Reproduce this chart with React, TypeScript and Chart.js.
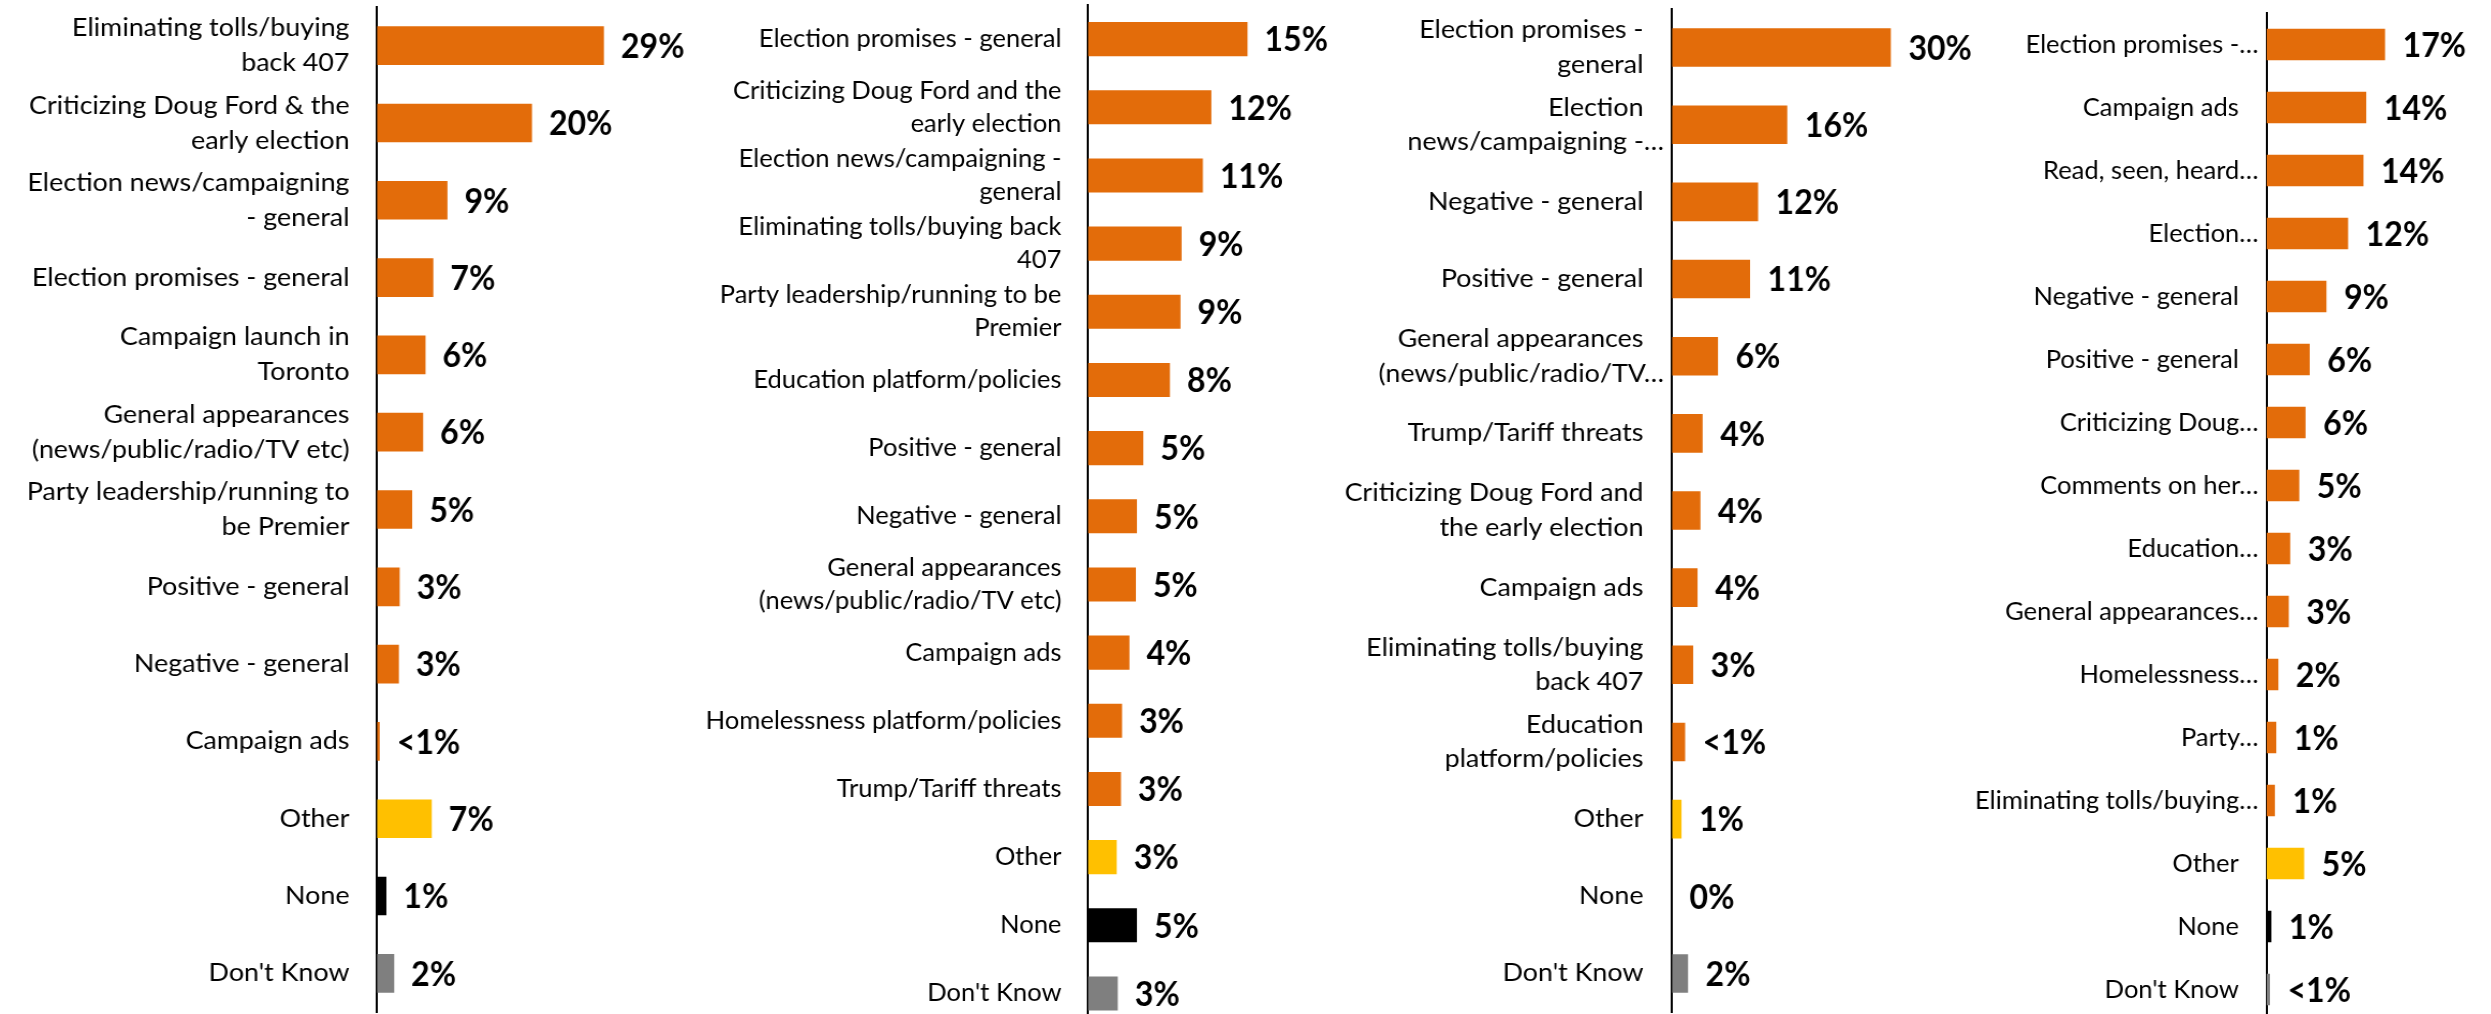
import React, { useEffect, useRef } from 'react';
import { Chart, registerables } from 'chart.js';

Chart.register(...registerables);

// ---------------- DATA ----------------
const p1Categories = [
  'Eliminating tolls/buying\nback 407',
  'Criticizing Doug Ford & the\nearly election',
  'Election news/campaigning\n- general',
  'Election promises - general',
  'Campaign launch in\nToronto',
  'General appearances\n(news/public/radio/TV etc)',
  'Party leadership/running to\nbe Premier',
  'Positive - general',
  'Negative - general',
  'Campaign ads',
  'Other',
  'None',
  "Don't Know",
];
const p1Values = [29, 19.8, 9, 7.2, 6.2, 5.9, 4.5, 2.9, 2.8, 0.35, 7.0, 1.2, 2.2];
const p1Labels = ['29%', '20%', '9%', '7%', '6%', '6%', '5%', '3%', '3%', '<1%', '7%', '1%', '2%'];

const p2Categories = [
  'Election promises - general',
  'Criticizing Doug Ford and the\nearly election',
  'Election news/campaigning -\ngeneral',
  'Eliminating tolls/buying back\n407',
  'Party leadership/running to be\nPremier',
  'Education platform/policies',
  'Positive - general',
  'Negative - general',
  'General appearances\n(news/public/radio/TV etc)',
  'Campaign ads',
  'Homelessness platform/policies',
  'Trump/Tariff threats',
  'Other',
  'None',
  "Don't Know",
];
const p2Values = [15, 11.6, 10.8, 8.8, 8.7, 7.7, 5.2, 4.6, 4.5, 3.9, 3.2, 3.1, 2.7, 4.6, 2.8];
const p2Labels = ['15%', '12%', '11%', '9%', '9%', '8%', '5%', '5%', '5%', '4%', '3%', '3%', '3%', '5%', '3%'];

const p3Categories = [
  'Election promises -\ngeneral',
  'Election\nnews/campaigning -…',
  'Negative - general',
  'Positive - general',
  'General appearances\n(news/public/radio/TV…',
  'Trump/Tariff threats',
  'Criticizing Doug Ford and\nthe early election',
  'Campaign ads',
  'Eliminating tolls/buying\nback 407',
  'Education\nplatform/policies',
  'Other',
  'None',
  "Don't Know",
];
const p3Values = [30, 15.8, 11.8, 10.7, 6.3, 4.2, 3.9, 3.5, 2.9, 1.8, 1.3, 0, 2.2];
const p3Labels = ['30%', '16%', '12%', '11%', '6%', '4%', '4%', '4%', '3%', '<1%', '1%', '0%', '2%'];

const p4Categories = [
  'Election promises -…',
  'Campaign ads',
  'Read, seen, heard…',
  'Election…',
  'Negative - general',
  'Positive - general',
  'Criticizing Doug…',
  'Comments on her…',
  'Education…',
  'General appearances…',
  'Homelessness…',
  'Party…',
  'Eliminating tolls/buying…',
  'Other',
  'None',
  "Don't Know",
];
const p4Values = [17, 14.3, 13.9, 11.7, 8.6, 6.2, 5.6, 4.7, 3.4, 3.2, 1.7, 1.4, 1.2, 5.4, 0.7, 0.5];
const p4Labels = ['17%', '14%', '14%', '12%', '9%', '6%', '6%', '5%', '3%', '3%', '2%', '1%', '1%', '5%', '1%', '<1%'];

// ---------------- STYLE ----------------
const ORANGE = '#E36C0A';
const YELLOW = '#FFC000';
const BLACK = '#000000';
const GREY = '#7F7F7F';
const FONT = 'Lato, "Open Sans", sans-serif';
const CAT_SIZE = 25;
const VAL_SIZE = 35;
const CANVAS_H = 1040;
const REF_TEXT = 'Negative - general';
const VAL_REF_TEXT = '29%';
const VAL_REF_WIDTH = 63.5; // page px width of a bold "NN%" label

function measure(font: string, text: string): number {
  const c = document.createElement('canvas').getContext('2d') as CanvasRenderingContext2D;
  c.font = font;
  return c.measureText(text).width;
}
const catRefW = measure(`${CAT_SIZE}px ${FONT}`, REF_TEXT) || 190;
const valRefW = measure(`bold ${VAL_SIZE}px ${FONT}`, VAL_REF_TEXT) || 70;
const spaceW = measure(`${CAT_SIZE}px ${FONT}`, ' ') || 6;

function barColor(cat: string): string {
  if (cat === 'Other') return YELLOW;
  if (cat === 'None') return BLACK;
  if (cat === "Don't Know") return GREY;
  return ORANGE;
}

type Spec = {
  categories: string[];
  values: number[];
  labels: string[];
  left: number;
  right: number;
  axisX: number;
  top: number;
  bottom: number;
  pxPerUnit: number;
  refWidth: number;
  lineHeight: number;
  labelGap: number;
  ellipsisGap: number;
  valueGap: number;
};

const specs: Spec[] = [
  { categories: p1Categories, values: p1Values, labels: p1Labels, left: 0, right: 700, axisX: 377, top: 7, bottom: 1012, pxPerUnit: 7.83, refWidth: 215.5, lineHeight: 35, labelGap: 27.5, ellipsisGap: 27.5, valueGap: 17 },
  { categories: p2Categories, values: p2Values, labels: p2Labels, left: 690, right: 1330, axisX: 1088, top: 5, bottom: 1027.5, pxPerUnit: 10.63, refWidth: 205.3, lineHeight: 33, labelGap: 26.5, ellipsisGap: 26.5, valueGap: 17 },
  { categories: p3Categories, values: p3Values, labels: p3Labels, left: 1320, right: 1990, axisX: 1672, top: 9, bottom: 1012, pxPerUnit: 7.29, refWidth: 215.3, lineHeight: 34.5, labelGap: 28.2, ellipsisGap: 8, valueGap: 17.5 },
  { categories: p4Categories, values: p4Values, labels: p4Labels, left: 1955, right: 2491, axisX: 2266.5, top: 13, bottom: 1021, pxPerUnit: 6.98, refWidth: 205.3, lineHeight: 33, labelGap: 27, ellipsisGap: 8, valueGap: 17.5 },
];

function Panel({ spec }: { spec: Spec }) {
  const ref = useRef<HTMLCanvasElement | null>(null);
  const sx = spec.refWidth / catRefW;
  const labelW = (spec.axisX - spec.left) / sx;
  const areaW = (spec.right - spec.axisX) / sx;
  const W = Math.round(labelW + areaW);
  const xMax = (spec.right - spec.axisX) / spec.pxPerUnit;

  useEffect(() => {
    const canvas = ref.current;
    if (!canvas) return;
    const extra = (spec.labelGap - spec.ellipsisGap) / sx;
    const nSpaces = Math.max(0, Math.round(extra / spaceW));
    const pad = ' '.repeat(nSpaces);
    const kx = VAL_REF_WIDTH / valRefW / sx;

    const valuePlugin = {
      id: 'valueLabels',
      afterDatasetsDraw(chart: any) {
        const ctx = chart.ctx as CanvasRenderingContext2D;
        const meta = chart.getDatasetMeta(0);
        ctx.save();
        ctx.font = `bold ${VAL_SIZE}px ${FONT}`;
        ctx.fillStyle = '#000';
        ctx.textAlign = 'left';
        ctx.textBaseline = 'middle';
        meta.data.forEach((el: any, i: number) => {
          const p = el.getProps(['x', 'y'], true);
          ctx.save();
          ctx.translate(p.x + spec.valueGap / sx, p.y + 1);
          ctx.scale(kx, 1);
          ctx.fillText(spec.labels[i], 0, 0);
          ctx.restore();
        });
        ctx.restore();
      },
    };

    const chart = new Chart(canvas, {
      type: 'bar',
      data: {
        labels: spec.categories.map((c) => c.split('\n')),
        datasets: [
          {
            data: spec.values,
            backgroundColor: spec.categories.map(barColor),
            borderWidth: 0,
            barPercentage: 0.5,
            categoryPercentage: 1,
          },
        ],
      },
      options: {
        indexAxis: 'y',
        responsive: false,
        animation: false,
        events: [],
        layout: { padding: { top: spec.top, bottom: CANVAS_H - spec.bottom, left: 0, right: 0 } },
        plugins: { legend: { display: false }, tooltip: { enabled: false } },
        scales: {
          x: { display: false, min: 0, max: xMax },
          y: {
            z: 1,
            grid: { display: false, drawTicks: false },
            border: { display: true, color: '#000', width: 2 },
            ticks: {
              autoSkip: false,
              padding: spec.ellipsisGap / sx,
              color: '#000',
              font: { family: FONT, size: CAT_SIZE, lineHeight: spec.lineHeight / CAT_SIZE },
              callback: function (this: any, _v: any, idx: number) {
                const lines = spec.categories[idx].split('\n');
                return lines.map((l) => (l.endsWith('…') ? l : l + pad));
              },
            },
            afterFit: (s: any) => {
              s.width = labelW;
              s.paddingTop = 0;
              s.paddingBottom = 0;
            },
          },
        },
      },
      plugins: [valuePlugin],
    } as any);
    return () => chart.destroy();
  }, []);

  return (
    <div
      style={{
        position: 'absolute',
        left: spec.left,
        top: 0,
        width: W,
        height: CANVAS_H,
        transform: `scaleX(${sx})`,
        transformOrigin: 'left top',
      }}
    >
      <canvas ref={ref} width={W} height={CANVAS_H} style={{ display: 'block' }} />
    </div>
  );
}

export default function App() {
  return (
    <div
      style={{
        position: 'absolute',
        left: 0,
        top: 0,
        width: 2491,
        height: 1014,
        overflow: 'hidden',
        background: '#fff',
      }}
    >
      {specs.map((s, i) => (
        <Panel key={i} spec={s} />
      ))}
    </div>
  );
}
